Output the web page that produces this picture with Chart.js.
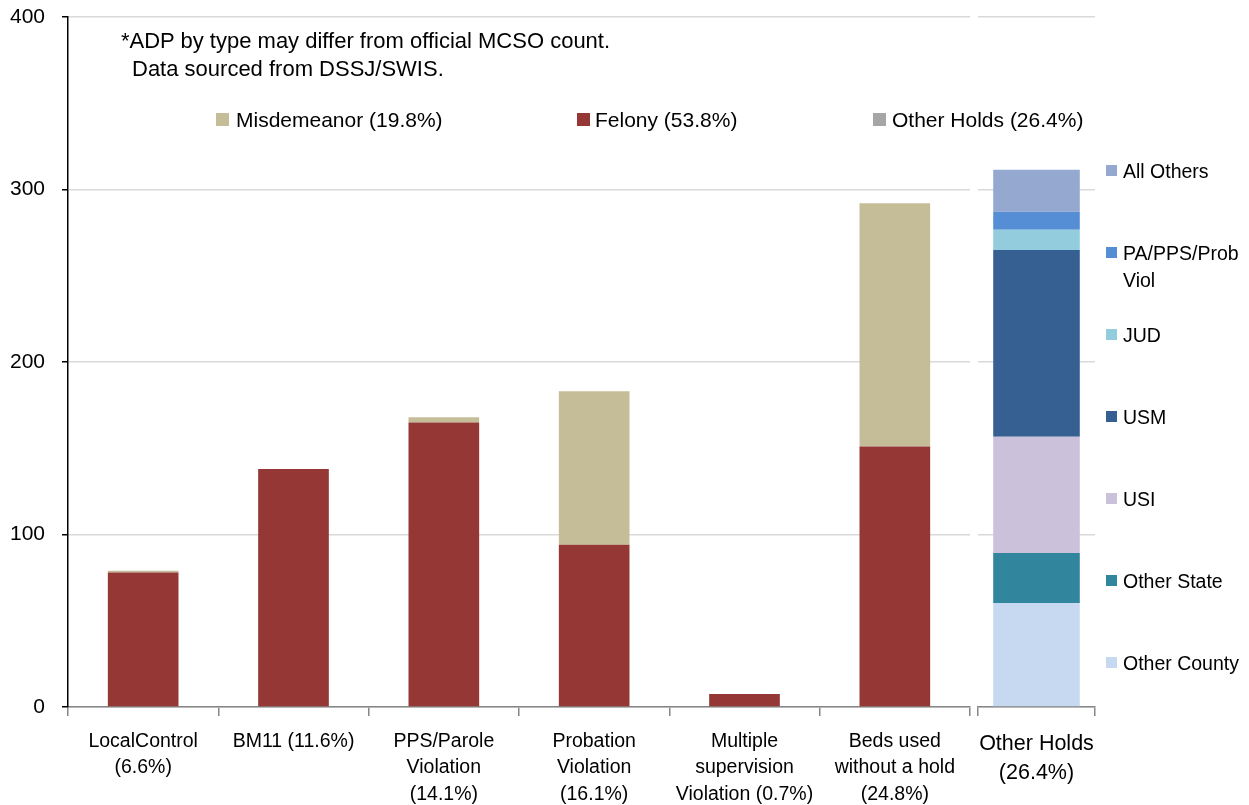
<!DOCTYPE html>
<html>
<head>
<meta charset="utf-8">
<script src="https://cdn.jsdelivr.net/npm/chart.js@4.4.1/dist/chart.umd.min.js"></script>
<style>
  html, body { margin: 0; padding: 0; background: #fff; }
  #wrap { position: relative; width: 1249px; height: 805px; overflow: hidden; font-family: "Liberation Sans", Arial, sans-serif; color: #000; }
  canvas { position: absolute; top: 0; }
  .txt { position: absolute; white-space: nowrap; }
  .sq { position: absolute; }
</style>
</head>
<body>
<div id="wrap">
  <canvas id="left" width="975" height="805" style="left:0"></canvas>
  <canvas id="right" width="274" height="805" style="left:975px"></canvas>
</div>
<script>
// ---- data ----
const categories = [
  ['LocalControl', '(6.6%)'],
  ['BM11 (11.6%)'],
  ['PPS/Parole', 'Violation', '(14.1%)'],
  ['Probation', 'Violation', '(16.1%)'],
  ['Multiple', 'supervision', 'Violation (0.7%)'],
  ['Beds used', 'without a hold', '(24.8%)']
];
const felony      = [78, 138, 165, 94, 7.5, 151];
const misdemeanor = [1, 0, 3, 89, 0, 141];
const mainLegend  = ['Misdemeanor (19.8%)', 'Felony (53.8%)', 'Other Holds (26.4%)'];

const holdsCategory = [['Other Holds', '(26.4%)']];
const holdTypes  = ['Other County', 'Other State', 'USI', 'USM', 'JUD', 'PA/PPS/Prob Viol', 'All Others'];
const holdValues = [60.3, 29, 67.3, 108.4, 11.6, 10.5, 24.4];
const holdLegendLines = [['Other County'], ['Other State'], ['USI'], ['USM'], ['JUD'], ['PA/PPS/Prob', 'Viol'], ['All Others']];

const yTicks = [0, 100, 200, 300, 400];
const note = ['*ADP by type may differ from official MCSO count.', 'Data sourced from DSSJ/SWIS.'];

// ---- styles ----
const FONT = '"Liberation Sans", Arial, sans-serif';
const colFelony = '#953735';
const colMisd = '#C4BD97';
const colOther = '#A6A6A6';
const holdColors = ['#C6D9F1', '#31859C', '#CCC1DA', '#366092', '#93CDDD', '#558ED5', '#95A8D0'];
const gridCol = '#D9D9D9';

const wrap = document.getElementById('wrap');
function addText(str, x, y, size, lh) {
  const d = document.createElement('div');
  d.className = 'txt'; d.textContent = str;
  d.style.left = x + 'px'; d.style.top = y + 'px';
  d.style.fontSize = size + 'px'; d.style.lineHeight = lh + 'px';
  wrap.appendChild(d); return d;
}
function addSq(x, y, w, h, c) {
  const d = document.createElement('div');
  d.className = 'sq';
  d.style.left = x + 'px'; d.style.top = y + 'px';
  d.style.width = w + 'px'; d.style.height = h + 'px';
  d.style.background = c;
  wrap.appendChild(d);
}
function fixY(width) {
  return s => { s.width = width; s.paddingTop = 0; s.paddingBottom = 0; };
}
function fixX(s) { s.height = 98; s.paddingLeft = 0; s.paddingRight = 0; }

// ---- left chart ----
new Chart(document.getElementById('left'), {
  type: 'bar',
  data: {
    labels: categories,
    datasets: [
      { label: mainLegend[1], data: felony, backgroundColor: colFelony, stack: 's' },
      { label: mainLegend[0], data: misdemeanor, backgroundColor: colMisd, stack: 's' }
    ]
  },
  options: {
    responsive: false,
    animation: false,
    devicePixelRatio: 1,
    layout: { padding: { top: 17, right: 5, left: 0, bottom: 0 } },
    datasets: { bar: { categoryPercentage: 1, barPercentage: 0.47 } },
    plugins: { legend: { display: false }, tooltip: { enabled: false } },
    scales: {
      x: {
        stacked: true,
        afterFit: fixX,
        grid: { offset: true, drawOnChartArea: false, drawTicks: true, tickLength: 9, color: '#868686', lineWidth: 1.5 },
        border: { color: '#868686', width: 1.5 },
        ticks: { color: '#000', font: { family: FONT, size: 19.5, lineHeight: 1.37 }, padding: 12, maxRotation: 0, autoSkip: false }
      },
      y: {
        stacked: true,
        min: yTicks[0], max: yTicks[yTicks.length - 1],
        afterFit: fixY(68),
        afterBuildTicks: s => { s.ticks = yTicks.map(v => ({ value: v })); },
        grid: { color: gridCol, lineWidth: 1.5, drawTicks: true, tickLength: 6, tickColor: '#000' },
        border: { color: '#000', width: 1.5 },
        ticks: { color: '#000', font: { family: FONT, size: 21 }, padding: 17 }
      }
    }
  }
});

// ---- right chart ----
new Chart(document.getElementById('right'), {
  type: 'bar',
  data: {
    labels: holdsCategory,
    datasets: holdTypes.map((t, i) => ({ label: t, data: [holdValues[i]], backgroundColor: holdColors[i], stack: 'h' }))
  },
  options: {
    responsive: false,
    animation: false,
    devicePixelRatio: 1,
    layout: { padding: { top: 17, right: 154, left: 3, bottom: 0 } },
    datasets: { bar: { categoryPercentage: 1, barPercentage: 0.74 } },
    plugins: { legend: { display: false }, tooltip: { enabled: false } },
    scales: {
      x: {
        stacked: true,
        afterFit: fixX,
        grid: { offset: true, drawOnChartArea: false, drawTicks: true, tickLength: 9, color: '#868686', lineWidth: 1.5 },
        border: { color: '#868686', width: 1.5 },
        ticks: { color: '#000', font: { family: FONT, size: 21.5, lineHeight: 1.35 }, padding: 14, maxRotation: 0, autoSkip: false }
      },
      y: {
        stacked: true,
        min: yTicks[0], max: yTicks[yTicks.length - 1],
        afterFit: fixY(0),
        afterBuildTicks: s => { s.ticks = yTicks.map(v => ({ value: v })); },
        grid: { color: gridCol, lineWidth: 1.5, drawTicks: false },
        border: { display: false },
        ticks: { display: false }
      }
    }
  }
});

// ---- annotation ----
addText(note[0], 121, 27, 22, 28);
addText(note[1], 132, 55, 22, 28);

// ---- main legend ----
const mainColors = [colMisd, colFelony, colOther];
const mainSqX = [216, 577, 873];
const mainTxtX = [236, 595, 892];
mainLegend.forEach((t, i) => {
  addSq(mainSqX[i], 113, 13, 13, mainColors[i]);
  addText(t, mainTxtX[i], 107, 21, 26);
});

// ---- holds legend (top to bottom reversed) ----
for (let k = 0; k < holdTypes.length; k++) {
  const i = holdTypes.length - 1 - k;
  const y = 171 + k * 82;
  addSq(1106, y - 6, 11, 11, holdColors[i]);
  holdLegendLines[i].forEach((line, j) => {
    addText(line, 1123, y - 13 + j * 27, 19.5, 26);
  });
}
</script>
</body>
</html>
